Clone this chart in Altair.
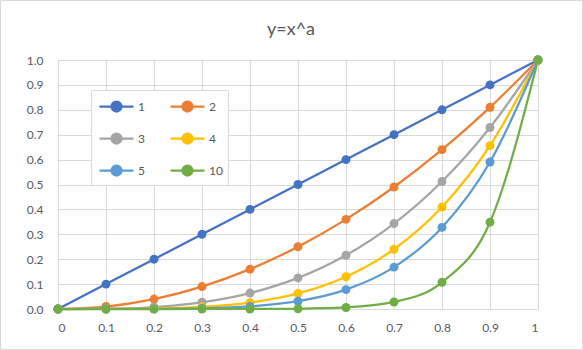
import altair as alt
import pandas as pd

x_vals = [0, 0.1, 0.2, 0.3, 0.4, 0.5, 0.6, 0.7, 0.8, 0.9, 1]
series_names = ["1", "2", "3", "4", "5", "10"]
y_a1 = [0, 0.1, 0.2, 0.3, 0.4, 0.5, 0.6, 0.7, 0.8, 0.9, 1]
y_a2 = [0, 0.01, 0.04, 0.09, 0.16, 0.25, 0.36, 0.49, 0.64, 0.81, 1]
y_a3 = [0, 0.001, 0.008, 0.027, 0.064, 0.125, 0.216, 0.343, 0.512, 0.729, 1]
y_a4 = [0, 0.0001, 0.0016, 0.0081, 0.0256, 0.0625, 0.1296, 0.2401, 0.4096, 0.6561, 1]
y_a5 = [0, 0.00001, 0.00032, 0.00243, 0.01024, 0.03125, 0.07776, 0.16807, 0.32768, 0.59049, 1]
y_a10 = [0, 0, 0, 0.000006, 0.000105, 0.000977, 0.006047, 0.028248, 0.107374, 0.348678, 1]
colors = ["#4472C4", "#ED7D31", "#A5A5A5", "#FFC000", "#5B9BD5", "#70AD47"]
x_ticks = [0, 0.1, 0.2, 0.3, 0.4, 0.5, 0.6, 0.7, 0.8, 0.9, 1]
y_ticks = [0, 0.1, 0.2, 0.3, 0.4, 0.5, 0.6, 0.7, 0.8, 0.9, 1]

all_y = [y_a1, y_a2, y_a3, y_a4, y_a5, y_a10]
rows = []
for i, (name, ys) in enumerate(zip(series_names, all_y)):
    for xv, yv in zip(x_vals, ys):
        rows.append({"x": xv, "y": yv, "a": name, "order": i})
df = pd.DataFrame(rows)

FONT = "Lato"
GRID = "#D9D9D9"
TXT = "#595959"

sym_path = "M-1.7,0L1.7,0M-0.5,0A0.5,0.5,0,1,1,0.5,0A0.5,0.5,0,1,1,-0.5,0Z"

color_scale = alt.Scale(domain=series_names, range=colors)

base = alt.Chart(df).encode(
    x=alt.X("x:Q", scale=alt.Scale(domain=[0, 1], nice=False),
            axis=alt.Axis(values=x_ticks, format="~g", title=None, ticks=False,
                          grid=True, gridColor=GRID, domainColor=GRID,
                          labelColor=TXT, labelFont=FONT, labelFontSize=12,
                          labelPadding=13)),
    y=alt.Y("y:Q", scale=alt.Scale(domain=[0, 1], nice=False),
            axis=alt.Axis(values=y_ticks, format=".1f", title=None, ticks=False,
                          domain=False, grid=True, gridColor=GRID,
                          labelColor=TXT, labelFont=FONT, labelFontSize=12,
                          labelPadding=15)),
    color=alt.Color("a:N", scale=color_scale, sort=series_names,
                    legend=alt.Legend(title=None, orient="none", legendX=33, legendY=30,
                                      direction="horizontal", columns=2,
                                      symbolType=sym_path, symbolSize=400,
                                      symbolOffset=9,
                                      symbolStrokeWidth=2.25, labelFont=FONT,
                                      labelFontSize=12, labelColor=TXT,
                                      strokeColor=GRID, fillColor="white",
                                      padding=5, rowPadding=11, columnPadding=21,
                                      labelOffset=10)),
    detail="order:O",
)

lines = base.mark_line(strokeWidth=2.25, interpolate="monotone")
points = base.mark_point(filled=True, size=80, opacity=1)

border = alt.Chart(pd.DataFrame({"k": [0]})).mark_rect(
    fill=None, stroke=GRID, strokeWidth=1, clip=False
).encode(x=alt.value(-57.5), x2=alt.value(524.5), y=alt.value(-59.5), y2=alt.value(289.5))

chart = alt.layer(lines, points, border).properties(
    width=480, height=249,
    title=alt.Title("y=x^a", font=FONT, fontSize=18, color=TXT, fontWeight="normal",
                    offset=22, dy=61, dx=-7),
    autosize=alt.AutoSizeParams(type="none"),
    padding={"left": 58, "top": 60, "right": 45, "bottom": 41},
).configure_view(stroke=None).configure(background="white")

chart.save("out.html", embed_options={"renderer": "svg", "actions": False})
